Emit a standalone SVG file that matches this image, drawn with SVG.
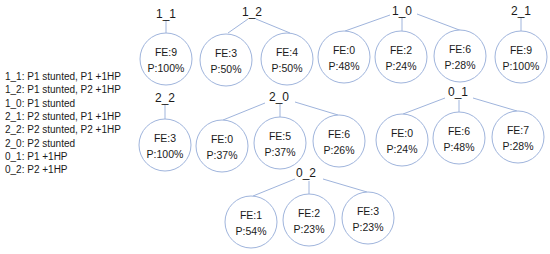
<svg xmlns="http://www.w3.org/2000/svg" width="550" height="254" viewBox="0 0 550 254">
<style>
text{font-family:"Liberation Sans",Arial,sans-serif;fill:#1a1a1a}
.lg{font-size:10px}
.lb{font-size:12px;text-anchor:middle}
.nt{font-size:10.5px;text-anchor:middle}
circle{fill:#fff;stroke:#9fb4dc;stroke-width:1}
line{stroke:#9fb4dc;stroke-width:1}
</style>
<rect width="550" height="254" fill="#fff"/>
<g id="legend">
<text class="lg" x="5" y="80">1_1: P1 stunted, P1 +1HP</text>
<text class="lg" x="5" y="93.3">1_2: P1 stunted, P2 +1HP</text>
<text class="lg" x="5" y="106.6">1_0: P1 stunted</text>
<text class="lg" x="5" y="120">2_1: P2 stunted, P1 +1HP</text>
<text class="lg" x="5" y="133.2">2_2: P2 stunted, P2 +1HP</text>
<text class="lg" x="5" y="146.5">2_0: P2 stunted</text>
<text class="lg" x="5" y="159.8">0_1: P1 +1HP</text>
<text class="lg" x="5" y="173">0_2: P2 +1HP</text>
</g>
<g id="connectors">
<line x1="166" y1="20" x2="166" y2="33"/>
<line x1="248" y1="19" x2="228" y2="33"/>
<line x1="256" y1="19" x2="290" y2="33"/>
<line x1="390" y1="15" x2="345" y2="31"/>
<line x1="402" y1="17" x2="402" y2="31"/>
<line x1="417" y1="14" x2="462" y2="31"/>
<line x1="521" y1="17" x2="521" y2="31"/>
<line x1="165" y1="104" x2="165" y2="119"/>
<line x1="265" y1="103" x2="223" y2="120"/>
<line x1="280" y1="104" x2="280" y2="117"/>
<line x1="295" y1="102" x2="338" y2="115"/>
<line x1="445" y1="98" x2="403" y2="114"/>
<line x1="459" y1="100" x2="459" y2="112"/>
<line x1="473" y1="98" x2="517" y2="111"/>
<line x1="295" y1="179" x2="253" y2="196"/>
<line x1="309" y1="181" x2="309" y2="194"/>
<line x1="323" y1="179" x2="367" y2="192"/>
</g>
<g id="n1_1">
<text class="lb" x="166" y="18">1_1</text>
<circle cx="166" cy="59" r="26"/>
<text class="nt" x="166" y="55.5">FE:9</text>
<text class="nt" x="166" y="72">P:100%</text>
</g>
<g id="n1_2">
<text class="lb" x="252" y="16">1_2</text>
<circle cx="226" cy="60" r="26"/>
<text class="nt" x="226" y="56.5">FE:3</text>
<text class="nt" x="226" y="73">P:50%</text>
<circle cx="287" cy="59" r="26"/>
<text class="nt" x="287" y="55.5">FE:4</text>
<text class="nt" x="287" y="72">P:50%</text>
</g>
<g id="n1_0">
<text class="lb" x="402" y="15">1_0</text>
<circle cx="344" cy="57" r="26"/>
<text class="nt" x="344" y="53.5">FE:0</text>
<text class="nt" x="344" y="70">P:48%</text>
<circle cx="401" cy="57" r="26"/>
<text class="nt" x="401" y="53.5">FE:2</text>
<text class="nt" x="401" y="70">P:24%</text>
<circle cx="460" cy="56" r="26"/>
<text class="nt" x="460" y="52.5">FE:6</text>
<text class="nt" x="460" y="69">P:28%</text>
</g>
<g id="n2_1">
<text class="lb" x="521" y="15">2_1</text>
<circle cx="521" cy="57" r="26"/>
<text class="nt" x="521" y="53.5">FE:9</text>
<text class="nt" x="521" y="70">P:100%</text>
</g>
<g id="n2_2">
<text class="lb" x="165" y="102">2_2</text>
<circle cx="165" cy="145" r="26"/>
<text class="nt" x="165" y="141.5">FE:3</text>
<text class="nt" x="165" y="158">P:100%</text>
</g>
<g id="n2_0">
<text class="lb" x="279" y="101">2_0</text>
<circle cx="222" cy="146" r="26"/>
<text class="nt" x="222" y="142.5">FE:0</text>
<text class="nt" x="222" y="159">P:37%</text>
<circle cx="280" cy="143" r="26"/>
<text class="nt" x="280" y="139.5">FE:5</text>
<text class="nt" x="280" y="156">P:37%</text>
<circle cx="339" cy="141" r="26"/>
<text class="nt" x="339" y="137.5">FE:6</text>
<text class="nt" x="339" y="154">P:26%</text>
</g>
<g id="n0_1">
<text class="lb" x="458" y="96">0_1</text>
<circle cx="402" cy="140" r="26"/>
<text class="nt" x="402" y="136.5">FE:0</text>
<text class="nt" x="402" y="153">P:24%</text>
<circle cx="459" cy="138" r="26"/>
<text class="nt" x="459" y="134.5">FE:6</text>
<text class="nt" x="459" y="151">P:48%</text>
<circle cx="518" cy="137" r="26"/>
<text class="nt" x="518" y="133.5">FE:7</text>
<text class="nt" x="518" y="150">P:28%</text>
</g>
<g id="n0_2">
<text class="lb" x="306" y="177">0_2</text>
<circle cx="251" cy="222" r="26"/>
<text class="nt" x="251" y="218.5">FE:1</text>
<text class="nt" x="251" y="235">P:54%</text>
<circle cx="309" cy="220" r="26"/>
<text class="nt" x="309" y="216.5">FE:2</text>
<text class="nt" x="309" y="233">P:23%</text>
<circle cx="368" cy="218" r="26"/>
<text class="nt" x="368" y="214.5">FE:3</text>
<text class="nt" x="368" y="231">P:23%</text>
</g>
</svg>
